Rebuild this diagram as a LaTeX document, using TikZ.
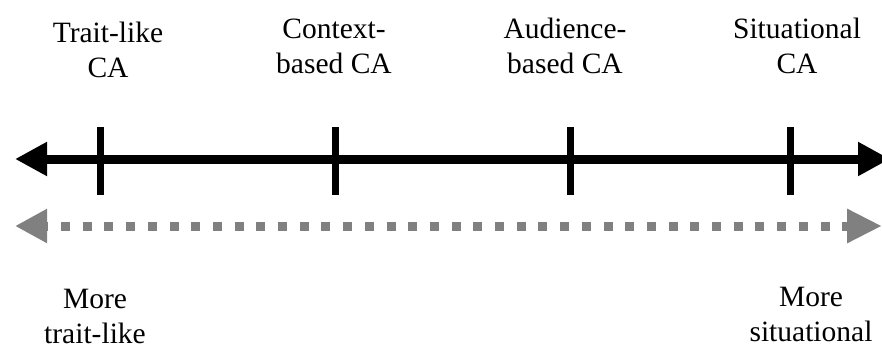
\documentclass[tikz,border=0pt]{standalone}
\usepackage{fontspec}
\setmainfont{Liberation Serif}
\usetikzlibrary{arrows.meta}
\definecolor{gray50}{RGB}{128,128,128}
\begin{document}
\begin{tikzpicture}[x=1pt,y=-1pt,
  axisline/.style={line width=9pt,black,{Triangle[length=32pt,width=32pt]}-{Triangle[length=32pt,width=32pt]}},
  dotscale/.style={line width=9pt,draw=gray50,dash pattern=on 9pt off 12.7pt,dash phase=5.7pt,
    {Triangle[length=32pt,width=32pt,fill=gray50]}-{Triangle[length=35pt,width=32pt,fill=gray50]}},
  tickmark/.style={line width=7pt,black},
  lbl/.style={font=\fontsize{29.5}{35}\selectfont,align=center,anchor=base,inner sep=0pt}
]
\useasboundingbox (0,0) rectangle (882,350);

% main continuum
\coordinate (axL) at (15,159);
\coordinate (axR) at (890,159);
\draw[axisline] (axL) -- (axR);

% tick marks
\foreach \n/\x in {tA/100,tB/335,tC/570,tD/790}{
  \coordinate (\n top) at (\x,127);
  \coordinate (\n bot) at (\x,195);
  \draw[tickmark] (\n top) -- (\n bot);
}

% dotted scale
\coordinate (sL) at (15,226);
\coordinate (sR) at (882,226);
\draw[dotscale] (sL) -- (sR);

% category labels (anchored at the baseline of their last line)
\node[lbl] (trait) at (108,78) {Trait-like\\CA};
\node[lbl] (context) at (334,74) {Context-\\based CA};
\node[lbl] (audience) at (565,74) {Audience-\\based CA};
\node[lbl] (situ) at (797,74) {Situational\\CA};

% pole labels
\node[lbl] (moreT) at (95,343) {More\\trait-like};
\node[lbl] (moreS) at (811,341) {More\\situational};
\end{tikzpicture}
\end{document}
